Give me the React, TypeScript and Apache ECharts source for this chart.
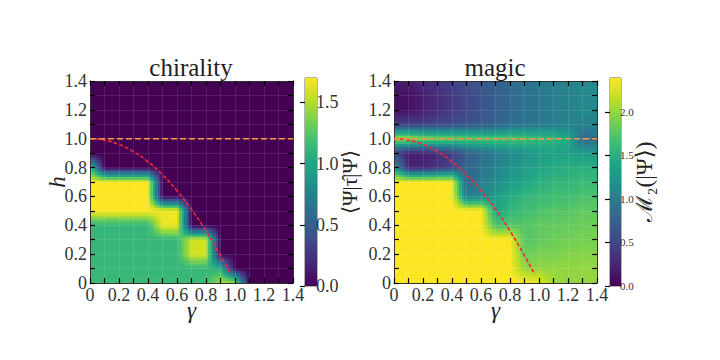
import React, { useEffect, useRef } from "react";
import * as echarts from "echarts";

const gammaLevels = [0, 0.1, 0.2, 0.3, 0.4, 0.5, 0.6, 0.7, 0.8, 0.9, 1.0, 1.1, 1.2, 1.3, 1.4];
const hLevels = [1.4, 1.3, 1.2, 1.1, 1.0, 0.9, 0.8, 0.7, 0.6, 0.5, 0.4, 0.3, 0.2, 0.1, 0];

// Rows run from h = 1.4 (first) down to h = 0 (last); columns follow gammaLevels.
const chiralityRows = [
  [0, 0, 0, 0, 0, 0, 0, 0, 0, 0, 0, 0, 0, 0, 0],
  [0, 0, 0, 0, 0, 0, 0, 0, 0, 0, 0, 0, 0, 0, 0],
  [0, 0, 0, 0, 0, 0, 0, 0, 0, 0, 0, 0, 0, 0, 0],
  [0, 0, 0, 0, 0, 0, 0, 0, 0, 0, 0, 0, 0, 0, 0],
  [0, 0, 0, 0, 0, 0, 0, 0, 0, 0, 0, 0, 0, 0, 0],
  [0, 0, 0, 0, 0, 0, 0, 0, 0, 0, 0, 0, 0, 0, 0],
  [1.2, 0, 0, 0, 0, 0, 0, 0, 0, 0, 0, 0, 0, 0, 0],
  [1.7, 1.7, 1.7, 1.7, 1.7, 0, 0, 0, 0, 0, 0, 0, 0, 0, 0],
  [1.7, 1.7, 1.7, 1.7, 1.7, 0, 0, 0, 0, 0, 0, 0, 0, 0, 0],
  [1.7, 1.7, 1.7, 1.7, 1.7, 1.67, 1.67, 0, 0, 0, 0, 0, 0, 0, 0],
  [1.12, 1.12, 1.12, 1.12, 1.12, 1.65, 1.65, 0, 0, 0, 0, 0, 0, 0, 0],
  [1.12, 1.12, 1.12, 1.12, 1.12, 1.12, 1.12, 1.58, 1.58, 0, 0, 0, 0, 0, 0],
  [1.12, 1.12, 1.12, 1.12, 1.12, 1.12, 1.12, 1.58, 1.58, 0, 0, 0, 0, 0, 0],
  [1.12, 1.12, 1.12, 1.12, 1.12, 1.12, 1.12, 1.12, 1.12, 1.05, 0, 0, 0, 0, 0],
  [1.15, 1.15, 1.15, 1.15, 1.15, 1.15, 1.15, 1.15, 1.15, 1.5, 1.5, 0, 0, 0, 0],
];

const magicRows = [
  [0.2, 0.2, 0.3, 0.35, 0.45, 0.55, 0.65, 0.7, 0.8, 0.9, 0.95, 1.0, 1.05, 1.1, 1.15],
  [0.1, 0.1, 0.2, 0.3, 0.4, 0.5, 0.6, 0.7, 0.8, 0.9, 0.95, 1.0, 1.05, 1.1, 1.15],
  [0.1, 0.1, 0.2, 0.3, 0.4, 0.5, 0.6, 0.7, 0.8, 0.9, 0.95, 1.0, 1.05, 1.1, 1.1],
  [0.4, 0.45, 0.45, 0.5, 0.55, 0.6, 0.65, 0.75, 0.85, 0.9, 0.95, 1.0, 1.05, 1.05, 1.05],
  [2.1, 2.0, 1.9, 1.85, 1.8, 1.75, 1.7, 1.7, 1.7, 1.65, 1.6, 1.55, 1.4, 0.8, 0.85],
  [0.5, 0.2, 0.2, 0.3, 0.45, 0.7, 0.85, 1.0, 1.1, 1.2, 1.3, 1.35, 1.35, 1.3, 1.3],
  [1.3, 0.25, 0.25, 0.35, 0.5, 0.75, 0.9, 1.05, 1.2, 1.3, 1.4, 1.45, 1.5, 1.5, 1.5],
  [2.39, 2.39, 2.39, 2.39, 2.39, 0.75, 1.0, 1.15, 1.3, 1.4, 1.5, 1.55, 1.55, 1.6, 1.6],
  [2.39, 2.39, 2.39, 2.39, 2.39, 1.0, 1.1, 1.3, 1.45, 1.55, 1.6, 1.65, 1.65, 1.7, 1.7],
  [2.39, 2.39, 2.39, 2.39, 2.39, 2.39, 2.39, 1.4, 1.55, 1.65, 1.7, 1.75, 1.75, 1.8, 1.8],
  [2.39, 2.39, 2.39, 2.39, 2.39, 2.39, 2.39, 1.7, 1.75, 1.75, 1.8, 1.8, 1.82, 1.85, 1.85],
  [2.39, 2.39, 2.39, 2.39, 2.39, 2.39, 2.39, 2.39, 2.39, 1.75, 1.8, 1.85, 1.87, 1.9, 1.9],
  [2.39, 2.39, 2.39, 2.39, 2.39, 2.39, 2.39, 2.39, 2.39, 1.85, 1.9, 1.9, 1.95, 1.95, 1.95],
  [2.39, 2.39, 2.39, 2.39, 2.39, 2.39, 2.39, 2.39, 2.39, 2.0, 2.0, 2.0, 2.0, 2.0, 2.0],
  [2.39, 2.39, 2.39, 2.39, 2.39, 2.39, 2.39, 2.39, 2.39, 2.39, 2.3, 2.05, 2.0, 2.0, 2.0],
];

const hLineGamma = [0, 1.4];
const hLineValue = [1, 1];
const curveGamma = [0, 0.1, 0.2, 0.3, 0.4, 0.5, 0.6, 0.7, 0.8, 0.9, 0.97];
const curveValue = [1, 0.99, 0.96, 0.91, 0.84, 0.75, 0.64, 0.51, 0.36, 0.19, 0.06];

const chiralityMax = 1.7;
const magicMax = 2.39;

const viridis = [
  [68, 1, 84], [72, 36, 117], [65, 68, 135], [53, 96, 141], [42, 120, 142], [33, 145, 140],
  [34, 168, 132], [68, 191, 112], [122, 209, 81], [189, 223, 38], [253, 231, 37],
];

const SUB = 6;
const SERIF = '"Liberation Serif", "DejaVu Serif", serif';

function viridisColor(t: number) {
  const c = Math.max(0, Math.min(1, t)) * (viridis.length - 1);
  const i = Math.min(viridis.length - 2, Math.floor(c));
  const f = c - i;
  const a = viridis[i];
  const b = viridis[i + 1];
  return `rgb(${Math.round(a[0] + (b[0] - a[0]) * f)},${Math.round(a[1] + (b[1] - a[1]) * f)},${Math.round(a[2] + (b[2] - a[2]) * f)})`;
}

// one item per mesh cell: [g0, h0, g1, h1, v00, v10, v01, v11]
function meshCells(rows: number[][]) {
  const out: number[][] = [];
  for (let r = 0; r < rows.length - 1; r++) {
    for (let c = 0; c < gammaLevels.length - 1; c++) {
      out.push([
        gammaLevels[c], hLevels[r + 1], gammaLevels[c + 1], hLevels[r],
        rows[r + 1][c], rows[r + 1][c + 1], rows[r][c], rows[r][c + 1],
      ]);
    }
  }
  return out;
}

function meshRenderer(max: number) {
  return (_p: any, api: any) => {
    const p0 = api.coord([api.value(0), api.value(1)]);
    const p1 = api.coord([api.value(2), api.value(3)]);
    const v00 = api.value(4), v10 = api.value(5), v01 = api.value(6), v11 = api.value(7);
    const children: any[] = [];
    for (let i = 0; i < SUB; i++) {
      const x0 = Math.round(p0[0] + ((p1[0] - p0[0]) * i) / SUB);
      const x1 = Math.round(p0[0] + ((p1[0] - p0[0]) * (i + 1)) / SUB);
      const u = (i + 0.5) / SUB;
      for (let j = 0; j < SUB; j++) {
        const y0 = Math.round(p0[1] + ((p1[1] - p0[1]) * j) / SUB);
        const y1 = Math.round(p0[1] + ((p1[1] - p0[1]) * (j + 1)) / SUB);
        const w = (j + 0.5) / SUB;
        const v = (v00 * (1 - u) + v10 * u) * (1 - w) + (v01 * (1 - u) + v11 * u) * w;
        children.push({
          type: "rect",
          shape: { x: x0, y: y1, width: x1 - x0, height: y0 - y1 },
          style: { fill: viridisColor(v / max) },
        });
      }
    }
    return { type: "group", children };
  };
}

function colorbarRenderer() {
  return (_p: any, api: any) => {
    const a = api.coord([0, api.value(0)]);
    const b = api.coord([1, api.value(1)]);
    return {
      type: "rect",
      shape: { x: a[0], y: b[1], width: b[0] - a[0], height: a[1] - b[1] },
      style: {
        fill: new echarts.graphic.LinearGradient(
          0, 1, 0, 0,
          viridis.map((_, i) => ({ offset: i / (viridis.length - 1), color: viridisColor(i / (viridis.length - 1)) })),
        ),
      },
    };
  };
}

const tickColor = "#000";
function plotAxis(extra: any) {
  return {
    type: "value", min: 0, max: 1.4, interval: 0.2, z: 5,
    axisLine: { show: true, onZero: false, lineStyle: { color: "#333", width: 1 } },
    axisTick: { show: true, inside: true, length: 5, lineStyle: { color: tickColor, width: 1.2 } },
    minorTick: { show: true, splitNumber: 2, length: 5, lineStyle: { color: tickColor, width: 1.2 } },
    splitLine: { show: true, lineStyle: { color: "rgba(255,255,255,0.1)", width: 1 } },
    minorSplitLine: { show: true, lineStyle: { color: "rgba(255,255,255,0.1)", width: 1 } },
    axisLabel: {
      show: true, color: "#333", fontFamily: SERIF, fontSize: 18, margin: 3, showMinLabel: true, showMaxLabel: true, hideOverlap: false,
      formatter: (v: number) => (v === 0 ? "0" : v.toFixed(1)),
    },
    ...extra,
  };
}
function twinAxis(position: string) {
  return plotAxis({ position, axisLabel: { show: false }, splitLine: { show: false }, minorSplitLine: { show: false } });
}
function barAxis(max: number, fontSize: number, name: string, nameGap: number, nameSize: number) {
  return {
    type: "value", min: 0, max, interval: 0.5, position: "right", z: 5,
    name, nameLocation: "middle", nameRotate: 90, nameGap, nameMoveOverlap: false,
    nameTextStyle: { color: "#222", fontFamily: SERIF, fontSize: nameSize },
    axisLine: { show: false },
    axisTick: { show: true, inside: true, length: 5, lineStyle: { color: tickColor, width: 1.2 } },
    splitLine: { show: false },
    axisLabel: { show: true, color: "#333", fontFamily: SERIF, fontSize, margin: -1, showMaxLabel: false, formatter: (v: number) => v.toFixed(1) },
  };
}
const nameStyle = { color: "#222", fontFamily: SERIF, fontSize: 23, fontStyle: "italic" };

export default function App() {
  const ref = useRef<HTMLDivElement>(null);
  useEffect(() => {
    const chart = echarts.init(ref.current!, null, { renderer: "svg" });
    const curve = curveGamma.map((g, i) => [g, curveValue[i]]);
    const flat = hLineGamma.map((g, i) => [g, hLineValue[i]]);
    const hidden = { type: "value", min: 0, max: 1, show: false };
    const lines = (ax: number) => [
      { type: "line", xAxisIndex: ax, yAxisIndex: ax, data: curve, showSymbol: false, smooth: true, clip: false, z: 6, silent: true, lineStyle: { color: "#f0283c", width: 1.6, type: [4, 2] } },
      { type: "line", xAxisIndex: ax, yAxisIndex: ax, data: flat, showSymbol: false, clip: false, z: 7, silent: true, lineStyle: { color: "#fb9a3c", width: 1.5, type: [6, 3] } },
    ];
    chart.setOption({
      animation: false,
      backgroundColor: "#fff",
      title: [
        { text: "chirality", left: 186, top: 50, textAlign: "center", textStyle: { color: "#222", fontFamily: SERIF, fontWeight: "normal", fontSize: 25 } },
        { text: "magic", left: 490, top: 50, textAlign: "center", textStyle: { color: "#222", fontFamily: SERIF, fontWeight: "normal", fontSize: 25 } },
      ],
      grid: [
        { left: 90, top: 81, width: 203, height: 202 },
        { left: 305, top: 78, width: 12, height: 208, show: true, borderColor: "#666", borderWidth: 1, backgroundColor: "transparent" },
        { left: 394, top: 81, width: 203, height: 202 },
        { left: 610, top: 78, width: 11, height: 208, show: true, borderColor: "#666", borderWidth: 1, backgroundColor: "transparent" },
      ],
      xAxis: [
        plotAxis({ gridIndex: 0, position: "bottom", name: "γ", nameLocation: "middle", nameGap: 16, nameMoveOverlap: false, nameTextStyle: nameStyle }),
        plotAxis({ gridIndex: 2, position: "bottom", name: "γ", nameLocation: "middle", nameGap: 16, nameMoveOverlap: false, nameTextStyle: nameStyle }),
        { ...twinAxis("top"), gridIndex: 0 },
        { ...twinAxis("top"), gridIndex: 2 },
        { ...hidden, gridIndex: 1 },
        { ...hidden, gridIndex: 3 },
      ],
      yAxis: [
        plotAxis({ gridIndex: 0, position: "left", name: "h", nameLocation: "middle", nameRotate: 90, nameGap: 21, nameMoveOverlap: false, nameTextStyle: nameStyle }),
        plotAxis({ gridIndex: 2, position: "left" }),
        { ...twinAxis("right"), gridIndex: 0 },
        { ...twinAxis("right"), gridIndex: 2 },
        { ...barAxis(chiralityMax, 18, "⟨Ψ|τ̂|Ψ⟩", 22, 21), gridIndex: 1 },
        { ...barAxis(magicMax, 11, "ℳ₂(|Ψ⟩)", 12, 23), gridIndex: 3 },
      ],
      series: [
        { type: "custom", xAxisIndex: 0, yAxisIndex: 0, z: 2, silent: true, clip: false, renderItem: meshRenderer(chiralityMax), encode: { x: [0, 2], y: [1, 3] }, data: meshCells(chiralityRows) },
        { type: "custom", xAxisIndex: 1, yAxisIndex: 1, z: 2, silent: true, clip: false, renderItem: meshRenderer(magicMax), encode: { x: [0, 2], y: [1, 3] }, data: meshCells(magicRows) },
        ...lines(0),
        ...lines(1),
        { type: "custom", xAxisIndex: 4, yAxisIndex: 4, z: 2, silent: true, renderItem: colorbarRenderer(), encode: { y: [0, 1] }, data: [[0, chiralityMax]] },
        { type: "custom", xAxisIndex: 5, yAxisIndex: 5, z: 2, silent: true, renderItem: colorbarRenderer(), encode: { y: [0, 1] }, data: [[0, magicMax]] },
      ],
    });
    return () => chart.dispose();
  }, []);
  return <div ref={ref} style={{ position: "fixed", left: 0, top: 0, width: 720, height: 360 }} />;
}
